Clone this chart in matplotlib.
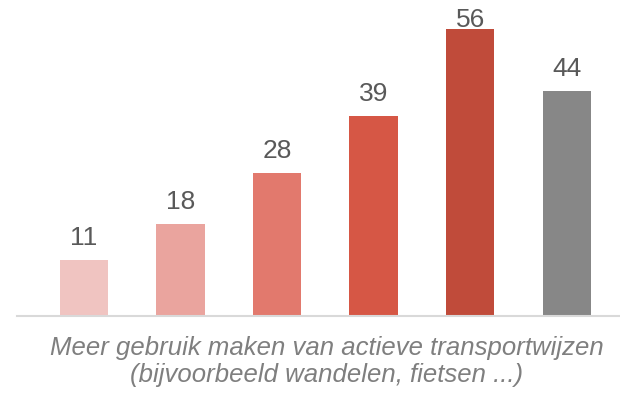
import matplotlib.pyplot as plt

plt.rcParams["font.family"] = ["Liberation Sans", "DejaVu Sans"]

values = [11, 18, 28, 39, 56, 44]
bar_colors = ["#F0C4C1", "#EAA49E", "#E2796D", "#D65745", "#C04B3A", "#878787"]
category_lines = ["Meer gebruik maken van actieve transportwijzen",
                  "(bijvoorbeeld wandelen, fietsen ...)"]

fig = plt.figure(figsize=(6.2, 3.93), dpi=100)
# plot area runs from the baseline (y=316 px) to the top edge
ax = fig.add_axes([0.027, 77 / 393, 0.973, 316 / 393])

y_top = 61.7
ax.set_xlim(-0.694, 5.55)
ax.set_ylim(0, y_top)

# data units per pixel inside the plot area
unit = y_top / 316
positions = list(range(len(values)))
bars = ax.bar(positions, values, width=0.5, color=bar_colors)
for rect, v in zip(bars, values):
    # labels sit above the bar but are kept inside the plot area
    label_y = min(v + 15 * unit, y_top - 27 * unit)
    ax.text(rect.get_x() + rect.get_width() / 2, label_y, str(v),
            ha="center", va="baseline", fontsize=19, color="#595959")

for side in ["top", "right", "left"]:
    ax.spines[side].set_visible(False)
ax.spines["bottom"].set_color("#D9D9D9")
ax.spines["bottom"].set_linewidth(1.5)
ax.set_yticks([])
ax.set_xticks([])

for line, y in zip(category_lines, [1 - 355 / 393, 1 - 382 / 393]):
    fig.text(0.527, y, line, ha="center", va="baseline", fontsize=18.5,
             style="italic", color="#7F7F7F")

fig.savefig("out.png", dpi=100)
